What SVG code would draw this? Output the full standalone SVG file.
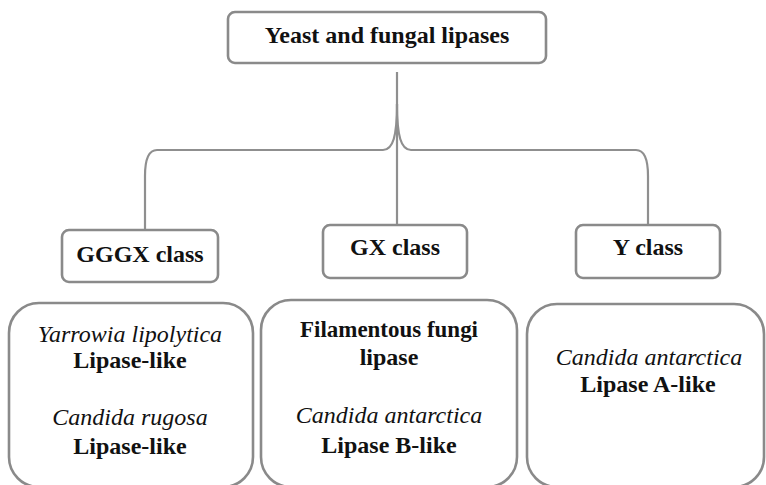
<svg xmlns="http://www.w3.org/2000/svg" width="766" height="485" viewBox="0 0 766 485">
  <style>
    .box { fill: #ffffff; stroke: #8a8a8a; stroke-width: 2.6; }
    .link { fill: none; stroke: #8f8f8f; stroke-width: 2.2; }
    text { font-family: "Liberation Serif", "Times New Roman", serif; font-size: 24px; fill: #111111; text-anchor: middle; }
    .b { font-weight: bold; }
    .i { font-style: italic; }
  </style>
  <rect width="766" height="485" fill="#ffffff"/>

  <!-- tree connectors -->
  <g id="connectors">
    <path class="link" d="M397,72 L397,228"/>
    <path class="link" d="M397,104 C397,136 393,150 383,150 L157,150 C148,150 145,160 145,176 L145,230"/>
    <path class="link" d="M397,104 C397,136 401,150 411,150 L636,150 C645,150 648,160 648,176 L648,225"/>
  </g>

  <g id="root">
    <rect class="box" x="228" y="12" width="318" height="51" rx="7"/>
    <text class="b" x="387" y="43">Yeast and fungal lipases</text>
  </g>

  <g id="gggx-class">
    <rect class="box" x="62" y="230" width="156" height="52" rx="7"/>
    <text class="b" x="140" y="262">GGGX class</text>
  </g>

  <g id="gx-class">
    <rect class="box" x="323" y="225" width="144" height="53" rx="7"/>
    <text class="b" x="395" y="255">GX class</text>
  </g>

  <g id="y-class">
    <rect class="box" x="576" y="225" width="144" height="53" rx="7"/>
    <text class="b" x="648" y="255">Y class</text>
  </g>

  <g id="gggx-members">
    <rect class="box" x="9" y="303" width="244" height="184" rx="30"/>
    <text class="i" x="130" y="342">Yarrowia lipolytica</text>
    <text class="b" x="130" y="368">Lipase-like</text>
    <text class="i" x="130" y="425">Candida rugosa</text>
    <text class="b" x="130" y="454">Lipase-like</text>
  </g>

  <g id="gx-members">
    <rect class="box" x="261" y="300" width="256" height="187" rx="30"/>
    <text class="b" x="389" y="337" textLength="178" lengthAdjust="spacingAndGlyphs">Filamentous fungi</text>
    <text class="b" x="389" y="365">lipase</text>
    <text class="i" x="389" y="423">Candida antarctica</text>
    <text class="b" x="389" y="453">Lipase B-like</text>
  </g>

  <g id="y-members">
    <rect class="box" x="527" y="304" width="237" height="183" rx="30"/>
    <text class="i" x="649" y="365">Candida antarctica</text>
    <text class="b" x="648" y="392">Lipase A-like</text>
  </g>
</svg>
